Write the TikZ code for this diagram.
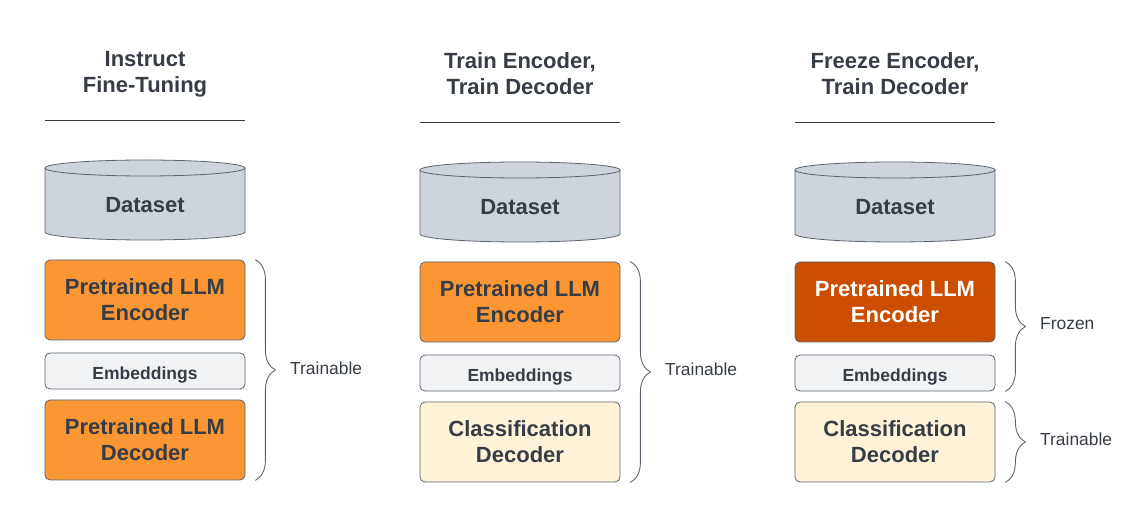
\documentclass[tikz,border=0pt]{standalone}
\usepackage{fontspec}
\setmainfont{Liberation Sans}
\usetikzlibrary{decorations.pathreplacing}
\definecolor{txt}{HTML}{363D47}
\definecolor{edge}{HTML}{5C6470}
\definecolor{orng}{HTML}{FA9633}
\definecolor{dorng}{HTML}{CB4D00}
\definecolor{cylg}{HTML}{CED4DB}
\definecolor{embg}{HTML}{F2F3F5}
\definecolor{cream}{HTML}{FEF3D8}
\tikzset{
  title/.style={font=\fontsize{22}{26}\selectfont\bfseries, text=txt, align=center},
  bigbox/.style={draw=edge, line width=0.8pt, rounded corners=5pt, minimum width=200pt, minimum height=80pt, font=\fontsize{22}{26}\selectfont\bfseries, text=txt, align=center, inner sep=0pt},
  embbox/.style={draw=edge, line width=0.8pt, rounded corners=5pt, minimum width=200pt, minimum height=36pt, fill=embg, font=\fontsize{17.5}{20}\selectfont\bfseries, text=txt, inner sep=0pt, text height=17.6pt, text depth=0pt},
  cyl/.style={draw=edge, line width=0.8pt, fill=cylg},
  rule/.style={draw=txt, line width=0.9pt},
  bracestyle/.style={draw=edge, line width=0.9pt, decorate, decoration={brace, amplitude=20pt}},
  lbl/.style={font=\fontsize{17.4}{20}\selectfont, text=txt, anchor=west, inner sep=0pt},
}
\begin{document}
\begin{tikzpicture}[x=1pt,y=1pt]
\useasboundingbox (0,0) rectangle (1125,522);
% ---------- Column 1 ----------
\node[title] (t1) at (145,448) {Instruct\\Fine-Tuning};
\coordinate (r1a) at (45,402); \coordinate (r1b) at (245,402);
\draw[rule] (r1a) -- (r1b);
\path[cyl] (45,354) -- (45,290) arc[start angle=180,end angle=360,x radius=100,y radius=8] -- (245,354) arc[start angle=0,end angle=180,x radius=100,y radius=8] -- cycle;
\draw[edge, line width=0.8pt] (45,354) arc[start angle=180,end angle=360,x radius=100,y radius=8];
\node[title] (d1) at (145,317) {Dataset};
\node[bigbox, fill=orng] (enc1) at (145,222) {Pretrained LLM\\Encoder};
\node[embbox] (emb1) at (145,151) {Embeddings};
\node[bigbox, fill=orng] (dec1) at (145,82) {Pretrained LLM\\Decoder};
\coordinate (b1t) at ([xshift=10pt]enc1.north east);
\coordinate (b1b) at ([xshift=10pt]dec1.south east);
\draw[bracestyle] (b1t) -- (b1b);
\node[lbl] (l1) at (290,154) {Trainable};
% ---------- Column 2 ----------
\node[title] (t2) at (520,448) {Train Encoder,\\Train Decoder};
\coordinate (r2a) at (420,400); \coordinate (r2b) at (620,400);
\draw[rule] (r2a) -- (r2b);
\path[cyl] (420,352) -- (420,288) arc[start angle=180,end angle=360,x radius=100,y radius=8] -- (620,352) arc[start angle=0,end angle=180,x radius=100,y radius=8] -- cycle;
\draw[edge, line width=0.8pt] (420,352) arc[start angle=180,end angle=360,x radius=100,y radius=8];
\node[title] (d2) at (520,315) {Dataset};
\node[bigbox, fill=orng] (enc2) at (520,220) {Pretrained LLM\\Encoder};
\node[embbox] (emb2) at (520,149) {Embeddings};
\node[bigbox, fill=cream] (dec2) at (520,80) {Classification\\Decoder};
\coordinate (b2t) at ([xshift=10pt]enc2.north east);
\coordinate (b2b) at ([xshift=10pt]dec2.south east);
\draw[bracestyle] (b2t) -- (b2b);
\node[lbl] (l2) at (665,153) {Trainable};
% ---------- Column 3 ----------
\node[title] (t3) at (895,448) {Freeze Encoder,\\Train Decoder};
\coordinate (r3a) at (795,400); \coordinate (r3b) at (995,400);
\draw[rule] (r3a) -- (r3b);
\path[cyl] (795,352) -- (795,288) arc[start angle=180,end angle=360,x radius=100,y radius=8] -- (995,352) arc[start angle=0,end angle=180,x radius=100,y radius=8] -- cycle;
\draw[edge, line width=0.8pt] (795,352) arc[start angle=180,end angle=360,x radius=100,y radius=8];
\node[title] (d3) at (895,315) {Dataset};
\node[bigbox, fill=dorng, text=white] (enc3) at (895,220) {Pretrained LLM\\Encoder};
\node[embbox] (emb3) at (895,149) {Embeddings};
\node[bigbox, fill=cream] (dec3) at (895,80) {Classification\\Decoder};
\coordinate (b3t) at ([xshift=10pt]enc3.north east);
\coordinate (b3m) at ([xshift=10pt]emb3.south east);
\draw[bracestyle] (b3t) -- (b3m);
\coordinate (b4t) at ([xshift=10pt]dec3.north east);
\coordinate (b4b) at ([xshift=10pt]dec3.south east);
\draw[bracestyle] (b4t) -- (b4b);
\node[lbl] (l3) at (1040,198) {Frozen};
\node[lbl] (l4) at (1040,83) {Trainable};
\end{tikzpicture}
\end{document}
